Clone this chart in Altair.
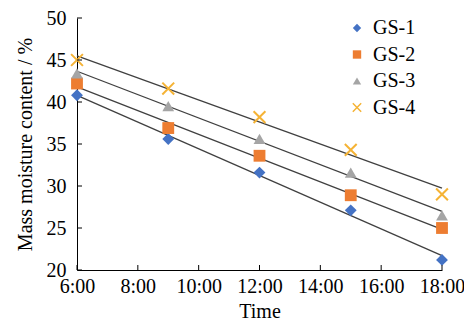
import altair as alt
import pandas as pd

hours = [6, 9, 12, 15, 18]
series = ["GS-1", "GS-2", "GS-3", "GS-4"]
gs1 = [40.8, 35.6, 31.6, 27.1, 21.2]
gs2 = [42.2, 36.9, 33.6, 28.9, 25.0]
gs3 = [43.4, 39.5, 35.6, 31.6, 26.5]
gs4 = [45.0, 41.6, 38.2, 34.3, 29.0]
x_ticks = [6, 8, 10, 12, 14, 16, 18]
y_ticks = [20, 25, 30, 35, 40, 45, 50]

fills = ["#4472C4", "#ED7D31", "#A5A5A5", "transparent"]
strokes = ["transparent", "transparent", "transparent", "#F5B335"]
shapes = ["diamond", "square", "triangle-up", "M-1,-1L1,1M-1,1L1,-1"]

rows = []
for name, vals in zip(series, [gs1, gs2, gs3, gs4]):
    for h, v in zip(hours, vals):
        rows.append({"hour": h, "value": v, "series": name})
df = pd.DataFrame(rows)
xt = pd.DataFrame({"t": x_ticks})
yt = pd.DataFrame({"t": y_ticks})

W, H = 365, 252
FONT = "Liberation Serif"
xs = alt.Scale(domain=[6, 18], nice=False)
ys = alt.Scale(domain=[20, 50], nice=False)

x_axis = alt.Axis(values=x_ticks, labelExpr="datum.value + ':00'", title="Time",
                  labelPadding=6, titlePadding=5, labelOverlap=False,
                  labelFlush=False)
y_axis = alt.Axis(values=y_ticks, title="Mass moisture content / %",
                  labelPadding=11, titlePadding=11, labelOverlap=False,
                  labelFlush=False)

lines = alt.Chart(df).transform_regression(
    "hour", "value", groupby=["series"]
).mark_line(color="#404040", strokeWidth=1.3).encode(
    x=alt.X("hour:Q", scale=xs, axis=x_axis),
    y=alt.Y("value:Q", scale=ys, axis=y_axis),
    detail="series:N")

leg = alt.Legend(title=None, orient="none", legendX=270, legendY=0,
                 labelFont=FONT, labelFontSize=20, labelColor="black",
                 symbolSize=70, rowPadding=6.5, labelOffset=6, padding=0,
                 symbolStrokeWidth=1.5)

points = alt.Chart(df).mark_point(size=140, opacity=1, strokeWidth=2).encode(
    x=alt.X("hour:Q", scale=xs, axis=x_axis),
    y=alt.Y("value:Q", scale=ys, axis=y_axis),
    fill=alt.Fill("series:N", scale=alt.Scale(domain=series, range=fills), legend=leg),
    stroke=alt.Stroke("series:N", scale=alt.Scale(domain=series, range=strokes), legend=leg),
    shape=alt.Shape("series:N", scale=alt.Scale(domain=series, range=shapes), legend=leg),
)

xtick = alt.Chart(xt).mark_rule(color="black", strokeWidth=1).encode(
    x=alt.X("t:Q", scale=xs, axis=x_axis),
    y=alt.value(H - 5), y2=alt.value(H))
ytick = alt.Chart(yt).mark_rule(color="black", strokeWidth=1).encode(
    y=alt.Y("t:Q", scale=ys, axis=y_axis),
    x=alt.value(0), x2=alt.value(5))

chart = alt.layer(lines, points, xtick, ytick).properties(
    width=W, height=H,
    autosize=alt.AutoSizeParams(type="none"),
    padding={"left": 69, "top": 10, "right": 22, "bottom": 56},
).configure_axis(
    grid=False, ticks=False, domainColor="black", domainWidth=1,
    labelFont=FONT, labelFontSize=20, labelColor="black",
    titleFont=FONT, titleFontSize=20, titleColor="black", titleFontWeight="normal",
).configure_view(strokeWidth=0)

chart.save("out.html", embed_options={"renderer": "svg", "actions": False})
